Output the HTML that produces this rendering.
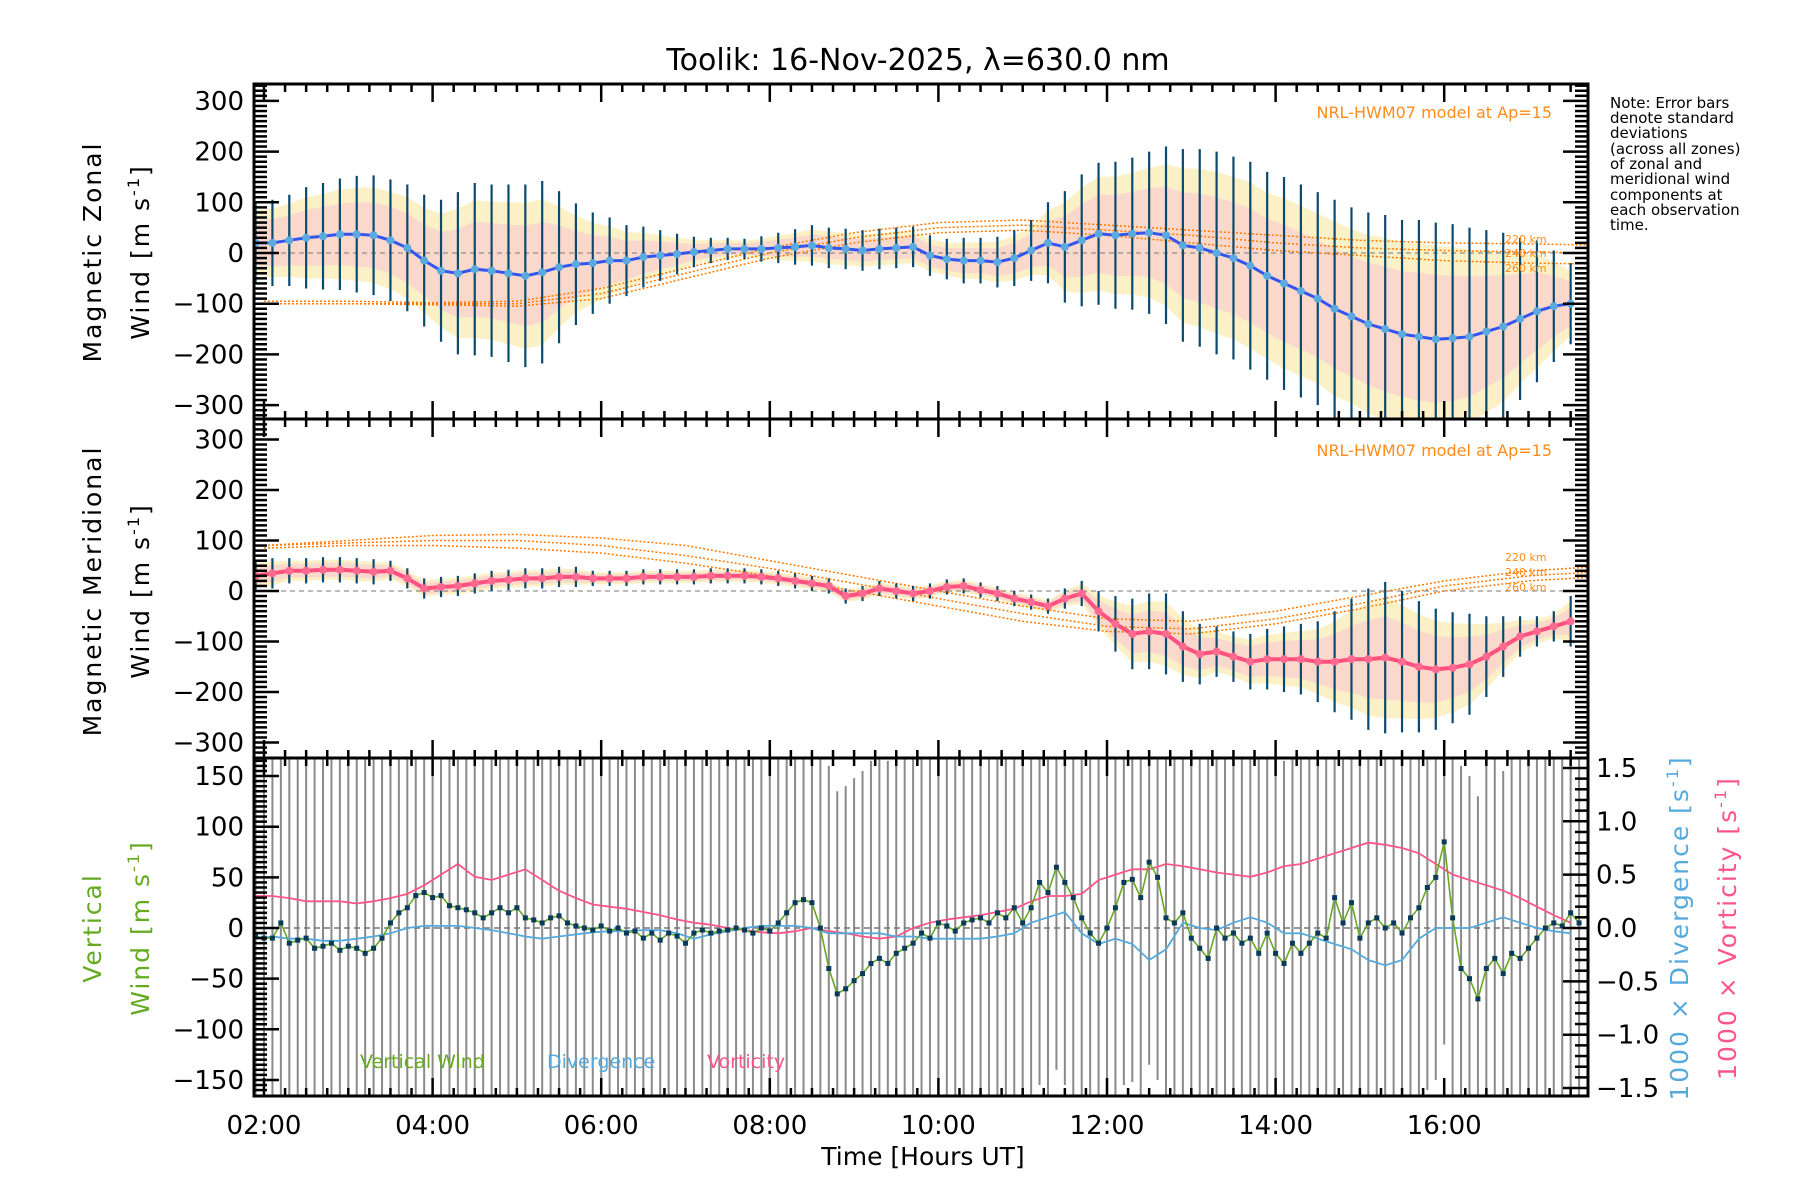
<!DOCTYPE html>
<html><head><meta charset="utf-8"><style>
html,body{margin:0;padding:0;background:#fff}
svg{display:block;font-family:"DejaVu Sans","Liberation Sans",sans-serif}
</style></head><body>
<svg id="chart" width="1800" height="1200" viewBox="0 0 1800 1200" xmlns="http://www.w3.org/2000/svg">
<defs>
<clipPath id="c1"><rect x="254" y="84" width="1334" height="335"/></clipPath>
<clipPath id="c2"><rect x="254" y="419" width="1334" height="339"/></clipPath>
<clipPath id="c3"><rect x="254" y="758" width="1334" height="338"/></clipPath>
</defs>
<text x="918" y="70" font-size="30" text-anchor="middle">Toolik: 16-Nov-2025, λ=630.0 nm</text>
<g id="g1"></g>
<g id="g2"></g>
<g id="g3"></g>
<g id="axes"></g>
<text transform="translate(101,252) rotate(-90)" font-size="25" text-anchor="middle" letter-spacing="2">Magnetic Zonal</text>
<text transform="translate(149,252) rotate(-90)" font-size="25" text-anchor="middle" letter-spacing="2">Wind [m s<tspan font-size="16" dy="-10">-1</tspan><tspan dy="10">]</tspan></text>
<text transform="translate(101,591) rotate(-90)" font-size="25" text-anchor="middle" letter-spacing="2">Magnetic Meridional</text>
<text transform="translate(149,591) rotate(-90)" font-size="25" text-anchor="middle" letter-spacing="2">Wind [m s<tspan font-size="16" dy="-10">-1</tspan><tspan dy="10">]</tspan></text>
<text transform="translate(101,928) rotate(-90)" font-size="25" fill="#66aa22" text-anchor="middle" letter-spacing="2">Vertical</text>
<text transform="translate(149,928) rotate(-90)" font-size="25" fill="#66aa22" text-anchor="middle" letter-spacing="2">Wind [m s<tspan font-size="16" dy="-10">-1</tspan><tspan dy="10">]</tspan></text>
<text transform="translate(1688,928) rotate(-90)" font-size="25" fill="#55aadd" text-anchor="middle" letter-spacing="2">1000 × Divergence [s<tspan font-size="16" dy="-10">-1</tspan><tspan dy="10">]</tspan></text>
<text transform="translate(1736,928) rotate(-90)" font-size="25" fill="#ff5588" text-anchor="middle" letter-spacing="2">1000 × Vorticity [s<tspan font-size="16" dy="-10">-1</tspan><tspan dy="10">]</tspan></text>
<text x="923" y="1165" font-size="25" text-anchor="middle">Time [Hours UT]</text>
<text x="1552" y="118" font-size="16" fill="#ff8c1a" text-anchor="end">NRL-HWM07 model at Ap=15</text>
<text x="1552" y="456" font-size="16" fill="#ff8c1a" text-anchor="end">NRL-HWM07 model at Ap=15</text>
<g font-size="11" fill="#ff8c1a">
<text x="1505" y="243">220 km</text><text x="1505" y="257">240 km</text><text x="1505" y="272">260 km</text>
<text x="1505" y="561">220 km</text><text x="1505" y="576">240 km</text><text x="1505" y="591">260 km</text>
</g>
<g font-size="15">
<text x="1610" y="108">Note: Error bars</text><text x="1610" y="123">denote standard</text><text x="1610" y="138">deviations</text><text x="1610" y="154">(across all zones)</text><text x="1610" y="169">of zonal and</text><text x="1610" y="184">meridional wind</text><text x="1610" y="200">components at</text><text x="1610" y="215">each observation</text><text x="1610" y="230">time.</text>
</g>
<g font-size="19">
<text x="360" y="1068" fill="#66aa22">Vertical Wind</text>
<text x="547" y="1068" fill="#55aadd">Divergence</text>
<text x="707" y="1068" fill="#ff5588">Vorticity</text>
</g>
</svg>
<script>
// ---- data ----
const windT0 = 1.9, windDt = 0.2;
const zonal = [20,20,25,30,33,37,37,35,25,10,-15,-35,-40,-32,-35,-40,-45,-38,-28,-22,-20,-15,-15,-8,-5,-2,2,5,8,8,8,10,12,15,10,8,5,8,10,12,-5,-12,-15,-15,-18,-10,5,20,12,25,38,35,38,40,35,15,10,0,-10,-25,-45,-60,-75,-90,-110,-125,-140,-150,-160,-165,-170,-168,-165,-155,-145,-130,-115,-105,-100];
const zonalErr = [80,85,90,100,105,110,115,118,120,125,130,140,160,170,170,175,180,180,150,120,100,85,70,60,50,40,30,25,22,20,25,30,35,40,40,40,40,40,40,40,40,40,45,45,50,55,60,80,110,130,140,145,150,160,175,190,195,200,200,205,205,210,210,210,215,215,220,225,225,230,230,225,215,200,185,160,140,110,80];
const merid = [30,35,40,40,42,42,40,38,40,25,5,8,10,15,20,22,25,25,28,28,25,25,25,28,28,28,28,30,30,30,28,25,20,15,10,-10,-5,5,0,-5,0,8,10,2,-5,-15,-22,-30,-15,-5,-40,-65,-85,-80,-85,-110,-125,-120,-130,-140,-135,-135,-135,-140,-140,-135,-135,-132,-140,-150,-155,-152,-145,-130,-110,-90,-80,-70,-60];
const meridErr = [30,30,25,25,25,25,25,25,20,20,20,20,20,20,20,20,20,20,20,20,15,15,15,15,15,15,15,15,15,15,15,15,15,15,15,15,15,15,15,15,15,15,15,15,15,15,15,15,20,25,40,55,70,75,80,70,60,50,50,55,60,65,70,80,100,120,140,150,140,130,120,110,100,80,60,40,30,30,50];
const modelT0 = 2, modelDt = 1;
const zonal220 = [-95,-95,-98,-95,-70,-30,10,40,60,65,55,45,35,25,20,18,15];
const zonal240 = [-100,-100,-100,-100,-80,-40,0,30,50,55,45,35,20,10,5,2,0];
const zonal260 = [-100,-100,-102,-105,-90,-50,-10,20,40,45,35,20,5,-5,-15,-20,-22];
const merid220 = [90,100,110,112,105,90,60,30,0,-30,-55,-60,-40,-10,20,40,50];
const merid240 = [90,95,100,100,90,70,45,15,-15,-45,-70,-75,-55,-25,10,30,40];
const merid260 = [85,90,90,85,75,55,30,0,-30,-60,-80,-85,-65,-35,0,20,30];
const vertT0 = 1.9, vertDt = 0.1;
const vertical = [-8,-10,-10,5,-15,-12,-10,-20,-18,-15,-22,-18,-20,-25,-20,-10,5,15,20,32,35,30,32,22,20,18,15,10,15,20,15,20,10,8,5,10,12,5,2,0,-2,2,-3,0,-5,-3,-10,-5,-12,-5,-8,-15,-5,-2,-5,-3,-2,0,-2,-5,0,-3,5,15,25,28,25,0,-40,-65,-60,-52,-45,-35,-30,-35,-25,-20,-15,-5,-10,5,2,-3,5,8,10,5,15,10,20,5,20,45,35,60,45,30,10,-5,-15,0,20,45,48,30,65,50,10,5,15,-10,-20,-30,0,-10,-5,-15,-10,-25,-5,-25,-35,-15,-25,-15,-5,-10,30,5,25,-10,5,10,0,5,-5,10,20,40,50,85,10,-40,-50,-70,-40,-30,-45,-25,-30,-20,-10,0,5,2,15,5];
const dvT0 = 1.9, dvDt = 0.2;
const divergence = [-0.1,-0.08,-0.1,-0.1,-0.12,-0.12,-0.1,-0.08,-0.05,0,0.02,0.02,0.02,0.0,-0.02,-0.05,-0.08,-0.1,-0.08,-0.06,-0.04,-0.03,-0.03,-0.02,-0.02,-0.05,-0.1,-0.06,-0.03,0.0,0.02,0.02,0.02,0.0,-0.05,-0.05,-0.05,-0.05,-0.08,-0.08,-0.1,-0.1,-0.1,-0.1,-0.08,-0.05,0.05,0.1,0.15,-0.05,-0.15,-0.1,-0.15,-0.3,-0.2,0.05,0.0,-0.02,0.05,0.1,0.05,-0.05,-0.05,-0.1,-0.15,-0.2,-0.3,-0.35,-0.3,-0.1,0.0,0.0,0.0,0.05,0.1,0.05,0.0,-0.03,-0.05];
const vorticity = [0.3,0.3,0.28,0.25,0.25,0.25,0.23,0.25,0.28,0.32,0.4,0.5,0.6,0.48,0.45,0.5,0.55,0.45,0.35,0.28,0.22,0.2,0.18,0.15,0.12,0.08,0.05,0.03,0.0,-0.02,-0.04,-0.05,-0.03,0.0,-0.03,-0.05,-0.08,-0.1,-0.08,0.0,0.05,0.08,0.1,0.12,0.15,0.18,0.25,0.3,0.3,0.32,0.45,0.5,0.55,0.55,0.6,0.58,0.55,0.52,0.5,0.48,0.52,0.58,0.6,0.65,0.7,0.75,0.8,0.78,0.75,0.7,0.6,0.5,0.45,0.4,0.35,0.28,0.2,0.12,0.05];
const hourTicks = ['02:00','04:00','06:00','08:00','10:00','12:00','14:00','16:00'];
const windTickVals = [-300,-200,-100,0,100,200,300];
const vertTickVals = [-150,-100,-50,0,50,100,150];
const rightTickVals = [-1.5,-1.0,-0.5,0.0,0.5,1.0,1.5];

// ---- axes functions ----
const X0=254,X1=1588;
const xs = t => 264 + (t-2)*84.3;
const y1 = v => 253 - v*0.507;
const y2 = v => 591 - v*0.505;
const y3 = v => 928 - v*1.013;
const y3r = v => 928 - v*106.7;
const NS='http://www.w3.org/2000/svg';
function mk(tag, parent, attrs){const e=document.createElementNS(NS,tag);for(const k in attrs)e.setAttribute(k,attrs[k]);parent.appendChild(e);return e;}
const g1=document.getElementById('g1'),g2=document.getElementById('g2'),g3=document.getElementById('g3'),ax=document.getElementById('axes');
g1.setAttribute('clip-path','url(#c1)');g2.setAttribute('clip-path','url(#c2)');g3.setAttribute('clip-path','url(#c3)');
function pts(arr,t0,dt,yf){return arr.map((v,i)=>xs(t0+i*dt).toFixed(1)+','+yf(v).toFixed(1)).join(' ');}
function band(g,mean,err,f,yf,fill,name){
  const up=mean.map((v,i)=>xs(windT0+i*windDt).toFixed(1)+','+yf(v+err[i]*f).toFixed(1));
  const dn=mean.map((v,i)=>xs(windT0+i*windDt).toFixed(1)+','+yf(v-err[i]*f).toFixed(1)).reverse();
  const p=mk('polygon',g,{points:up.concat(dn).join(' '),fill:fill});
  
  
}
function windPanel(g,mean,err,yf,m1,m2,m3,lineCol,dotCol,lw,prefix){
  band(g,mean,err,0.8,yf,'#fcf1c6',prefix+'-spread-outer');
  band(g,mean,err,0.55,yf,'#fad9cc',prefix+'-spread-inner');
  const zl=mk('line',g,{x1:X0,x2:X1,y1:yf(0),y2:yf(0),stroke:'#777','stroke-dasharray':'5,4','stroke-width':1});
  
  
  [m1,m2,m3].forEach((m,k)=>{
    const l=mk('polyline',g,{points:pts(m,modelT0,modelDt,yf),fill:'none',stroke:'#ff7a00','stroke-width':1.5,'stroke-dasharray':'2,2'});
    
    
  });
  mean.forEach((v,i)=>{
    const x=xs(windT0+i*windDt);
    const b=mk('line',g,{x1:x,x2:x,y1:yf(v+err[i]),y2:yf(v-err[i]),stroke:'#0b4a6e','stroke-width':2.2});
    
    
  });
  const ml=mk('polyline',g,{points:pts(mean,windT0,windDt,yf),fill:'none',stroke:lineCol,'stroke-width':lw});
  
  
  mean.forEach((v,i)=>{
    const c=mk('circle',g,{cx:xs(windT0+i*windDt),cy:yf(v),r:4,fill:dotCol});
    
    
  });
}
windPanel(g1,zonal,zonalErr,y1,zonal220,zonal240,zonal260,'#3355ee','#5aaae0',3,'zonal');
windPanel(g2,merid,meridErr,y2,merid220,merid240,merid260,'#ff5080','#ff6a90',4,'merid');

// vertical panel
vertical.forEach((v,i)=>{
  const x=xs(vertT0+i*vertDt);
  const b=mk('line',g3,{x1:x,x2:x,y1:y3(v+200),y2:y3(v-200),stroke:'#8a8a8a','stroke-width':2});
  
  
});
const z3=mk('line',g3,{x1:X0,x2:X1,y1:y3(0),y2:y3(0),stroke:'#777','stroke-dasharray':'6,4','stroke-width':1.5});


const vl=mk('polyline',g3,{points:pts(vorticity,dvT0,dvDt,y3r),fill:'none',stroke:'#ff5588','stroke-width':1.8});


const dl=mk('polyline',g3,{points:pts(divergence,dvT0,dvDt,y3r),fill:'none',stroke:'#55aadd','stroke-width':1.8});


const wl=mk('polyline',g3,{points:pts(vertical,vertT0,vertDt,y3),fill:'none',stroke:'#66aa22','stroke-width':1.6});


vertical.forEach((v,i)=>{
  const r=mk('rect',g3,{x:xs(vertT0+i*vertDt)-2.5,y:y3(v)-2.5,width:5,height:5,fill:'#0a3a5a'});
  
  
});

// frames and ticks
const panels=[[84,419,y1,windTickVals,10,'zonal'],[419,758,y2,windTickVals,10,'merid'],[758,1096,y3,vertTickVals,5,'vertical']];
panels.forEach(([top,bot,yf,ticks,minor,name])=>{
  const f=mk('rect',ax,{x:X0,y:top,width:X1-X0,height:bot-top,fill:'none',stroke:'#000','stroke-width':3});
  
  
  const lo=ticks[0]-30, hi=ticks[ticks.length-1]+30;
  for(let v=Math.ceil(lo/minor)*minor; v<=hi; v+=minor){
    const y=yf(v); if(y<top+1||y>bot-1) continue;
    const major = ticks.indexOf(v)>=0;
    mk('line',ax,{x1:X0,x2:X0+(major?25:13),y1:y,y2:y,stroke:'#000','stroke-width':2.5});
    if(name!=='vertical') mk('line',ax,{x1:X1,x2:X1-(major?25:13),y1:y,y2:y,stroke:'#000','stroke-width':2.5});
  }
  ticks.forEach(v=>{
    const t=mk('text',ax,{x:X0-10,y:yf(v)+9,'font-size':26,'text-anchor':'end'});
    t.textContent=(v<0?'−':'')+Math.abs(v);
    
    
  });
  for(let m=0;m<=16*4;m++){
    const t=1.75+m*0.25; const x=xs(t); if(x<X0+2||x>X1-2) continue;
    const major = Math.abs(t-Math.round(t))<1e-6 && Math.round(t)%2===0;
    const L=major?18:8;
    mk('line',ax,{x1:x,x2:x,y1:top,y2:top+L,stroke:'#000','stroke-width':2.5});
    mk('line',ax,{x1:x,x2:x,y1:bot,y2:bot-L,stroke:'#000','stroke-width':2.5});
  }
});
for(let k=-16;k<=16;k++){
  const v=k/10, y=y3r(v); if(y<759||y>1095) continue;
  const major = k%5===0;
  mk('line',ax,{x1:X1,x2:X1-(major?25:13),y1:y,y2:y,stroke:'#000','stroke-width':2.5});
}
rightTickVals.forEach(v=>{
  const t=mk('text',ax,{x:X1+8,y:y3r(v)+9,'font-size':26});
  t.textContent=(v<0?'−':'')+Math.abs(v).toFixed(1);
  
  
});
hourTicks.forEach((s,i)=>{
  const t=mk('text',ax,{x:xs(2+2*i),y:1134,'font-size':26,'text-anchor':'middle'});
  t.textContent=s;
  
  
});
</script>
</body></html>
